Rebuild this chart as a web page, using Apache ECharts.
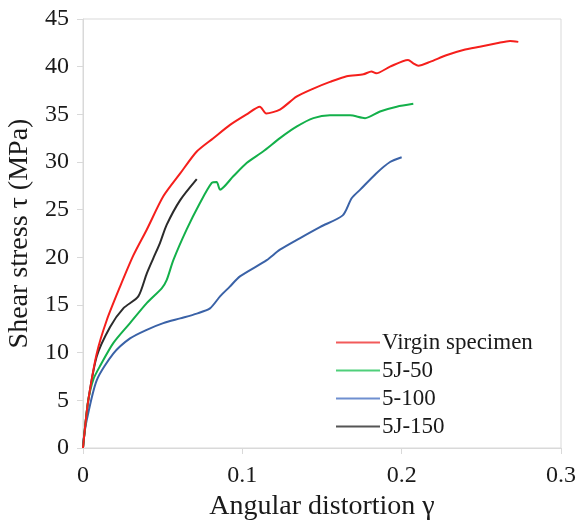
<!DOCTYPE html>
<html>
<head>
<meta charset="utf-8">
<script src="https://cdn.jsdelivr.net/npm/echarts@6/dist/echarts.min.js"></script>
<style>html,body{margin:0;padding:0;background:#fff;}#chart{width:578px;height:526px;}</style>
</head>
<body>
<div id="chart"></div>
<script>
const seriesNames = ['Virgin specimen', '5J-50', '5-100', '5J-150'];
const xTicks = [0, 0.1, 0.2, 0.3];
const yTicks = [0, 5, 10, 15, 20, 25, 30, 35, 40, 45];

const virgin = [[0,0],[0.0013,2.2],[0.0033,5.0],[0.0086,9.9],[0.0149,13.4],[0.0232,16.9],[0.0316,20.2],[0.040,22.9],[0.0504,26.4],[0.061,28.8],[0.0714,31.1],[0.0818,32.5],[0.0923,33.9],[0.1027,35.0],[0.111,35.8],[0.115,35.1],[0.1236,35.5],[0.134,36.85],[0.1446,37.7],[0.155,38.4],[0.1655,39.0],[0.176,39.2],[0.181,39.5],[0.184,39.3],[0.1927,40.0],[0.204,40.7],[0.2073,40.35],[0.2105,40.1],[0.2178,40.5],[0.228,41.2],[0.2387,41.75],[0.249,42.1],[0.2597,42.45],[0.268,42.7],[0.2732,42.6]];
const j50 = [[0,0],[0.0013,2.2],[0.0033,5.0],[0.0065,7.2],[0.0107,8.6],[0.019,11.0],[0.0295,13.1],[0.040,15.2],[0.0494,16.75],[0.0525,17.6],[0.0567,19.7],[0.065,22.9],[0.0734,25.7],[0.0808,27.8],[0.0839,27.9],[0.086,27.1],[0.0943,28.5],[0.1027,29.9],[0.113,31.1],[0.1236,32.5],[0.134,33.7],[0.1446,34.6],[0.155,34.9],[0.1676,34.9],[0.177,34.6],[0.1864,35.3],[0.1969,35.8],[0.2073,36.1]];
const s100 = [[0,0],[0.0003,0.8],[0.0023,2.9],[0.0086,7.1],[0.019,9.9],[0.0295,11.5],[0.040,12.4],[0.0504,13.1],[0.061,13.6],[0.0714,14.1],[0.0797,14.65],[0.086,15.9],[0.092,16.9],[0.0985,18.0],[0.1153,19.7],[0.1236,20.8],[0.136,22.0],[0.149,23.2],[0.163,24.4],[0.1686,26.2],[0.174,27.1],[0.184,28.8],[0.1927,30.0],[0.200,30.5]];
const j150 = [[0,0],[0.0013,2.2],[0.0033,5.0],[0.0086,9.6],[0.017,12.7],[0.0253,14.65],[0.0347,15.9],[0.040,18.3],[0.0441,19.9],[0.0483,21.5],[0.0525,23.4],[0.061,26.0],[0.0714,28.2]];

const lineColors = ['#f51f1c', '#13b04a', '#3a62a7', '#2b2b2b'];
const legendColors = ['#f25a5a', '#4fcf7a', '#6f8fd0', '#555555'];
const datasets = [virgin, j50, s100, j150];

const font = 'Liberation Serif, Times New Roman, serif';
const chart = echarts.init(document.getElementById('chart'));
chart.setOption({
  animation: false,
  backgroundColor: '#ffffff',
  grid: {left: 83, right: 17, top: 19, bottom: 78, show: true, borderColor: '#d9d9d9', borderWidth: 1,
    containLabel: false, outerBoundsMode: 'none'},
  legend: {
    orient: 'vertical', left: 331, top: 326, itemGap: 5, itemWidth: 44, itemHeight: 2,
    textStyle: {fontFamily: font, fontSize: 23, color: '#1a1a1a', padding: [0,0,0,-3]},
    data: seriesNames.map((n, i) => ({name: n, icon: 'rect', itemStyle: {color: legendColors[i]}}))
  },
  xAxis: {
    type: 'value', min: 0, max: 0.3, interval: 0.1,
    name: 'Angular distortion γ', nameLocation: 'middle', nameGap: 43,
    nameTextStyle: {fontFamily: font, fontSize: 28, color: '#1a1a1a'},
    axisLine: {show: true, lineStyle: {color: '#d9d9d9', width: 1}},
    axisTick: {show: true, length: 6, lineStyle: {color: '#d9d9d9'}},
    splitLine: {show: false},
    axisLabel: {fontFamily: font, fontSize: 24, color: '#1a1a1a', margin: 16,
      formatter: v => { const t = xTicks.find(x => Math.abs(x - v) < 1e-9); return t === undefined ? '' : String(t); }}
  },
  yAxis: {
    type: 'value', min: 0, max: 45, interval: 5,
    name: 'Shear stress τ (MPa)', nameLocation: 'middle', nameGap: 47,
    nameTextStyle: {fontFamily: font, fontSize: 28, color: '#1a1a1a'},
    axisLine: {show: true, lineStyle: {color: '#d9d9d9', width: 1}},
    axisTick: {show: true, length: 6, lineStyle: {color: '#d9d9d9'}},
    splitLine: {show: false},
    axisLabel: {fontFamily: font, fontSize: 24, color: '#1a1a1a', margin: 14,
      formatter: v => { const t = yTicks.find(y => Math.abs(y - v) < 1e-9); return t === undefined ? '' : String(t); }}
  },
  series: datasets.map((d, i) => ({
    name: seriesNames[i], type: 'line', data: d, showSymbol: false, symbol: 'none',
    smooth: 0.25, lineStyle: {color: lineColors[i], width: 2}, itemStyle: {color: lineColors[i]}, z: 10 - i
  }))
});
</script>
</body>
</html>
